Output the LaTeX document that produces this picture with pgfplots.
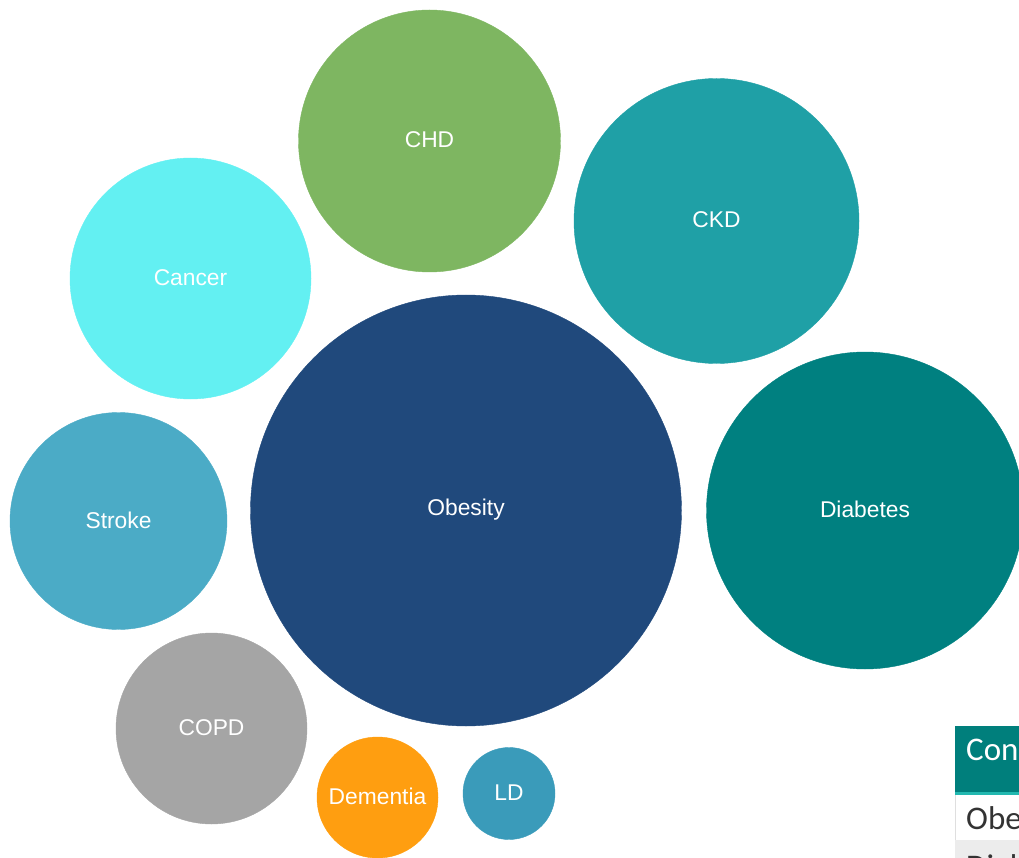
\documentclass[border=0pt]{standalone}
\usepackage{pgfplots}
\pgfplotsset{compat=1.18}
\usepackage{fontspec}
\setmainfont{Liberation Sans}
\newfontfamily\tablefont{Carlito}

\definecolor{cchd}{HTML}{7EB661}
\definecolor{cckd}{HTML}{1FA0A6}
\definecolor{ccan}{HTML}{63F0F2}
\definecolor{cobe}{HTML}{20497C}
\definecolor{cdia}{HTML}{008080}
\definecolor{cstr}{HTML}{4BABC6}
\definecolor{ccop}{HTML}{A5A5A5}
\definecolor{cdem}{HTML}{FF9E10}
\definecolor{cld}{HTML}{3A9BBA}
\definecolor{thead}{HTML}{007F7C}
\definecolor{tline}{HTML}{22B8B0}

\pgfplotsset{
  bubble/.style={only marks, mark=*, mark size=#1,
    nodes near coords, point meta=explicit symbolic,
    every node near coord/.append style={anchor=center, text=white,
      yshift=1pt, font=\fontsize{22.8}{26}\selectfont}},
}

\begin{document}
\begin{tikzpicture}
\begin{axis}[
  width=1019pt, height=858pt, scale only axis,
  xmin=0, xmax=1019, ymin=0, ymax=858, y dir=reverse,
  hide axis, clip marker paths=true,
]
\addplot[bubble=131, color=cchd] coordinates {(429.5,141) [CHD]};
\addplot[bubble=142.5, color=cckd] coordinates {(716.5,221) [CKD]};
\addplot[bubble=120.5, color=ccan] coordinates {(190.5,278.5) [Cancer]};
\addplot[bubble=215.5, color=cobe] coordinates {(466,510.5) [Obesity]};
\addplot[bubble=158.5, color=cdia] coordinates {(865,510.5) [Diabetes]};
\addplot[bubble=108.5, color=cstr] coordinates {(118.5,521) [Stroke]};
\addplot[bubble=95.5, color=ccop] coordinates {(211.5,728.5) [COPD]};
\addplot[bubble=60.5, color=cdem] coordinates {(377.5,797.5) [Dementia]};
\addplot[bubble=46, color=cld] coordinates {(509,793.5) [LD]};

% table fragment at the bottom right
\fill[thead] (axis cs:955,726) rectangle (axis cs:1019,792);
\fill[tline] (axis cs:955,792) rectangle (axis cs:1019,795);
\fill[gray!25] (axis cs:955,795) rectangle (axis cs:956,840);
\fill[gray!15] (axis cs:955,840) rectangle (axis cs:1019,858);
\node[anchor=base west, text=white, inner sep=0pt, font=\tablefont\fontsize{33}{36}\selectfont]
  at (axis cs:966,760) {Condition};
\node[anchor=base west, text=black!80, inner sep=0pt, font=\tablefont\fontsize{33}{36}\selectfont]
  at (axis cs:966,829) {Obesity};
\node[anchor=base west, text=black!80, inner sep=0pt, font=\tablefont\fontsize{33}{36}\selectfont]
  at (axis cs:966,877) {Diabetes};
\end{axis}
\pgfresetboundingbox
\path (0,0) rectangle (1019pt,858pt);
\end{tikzpicture}
\end{document}
